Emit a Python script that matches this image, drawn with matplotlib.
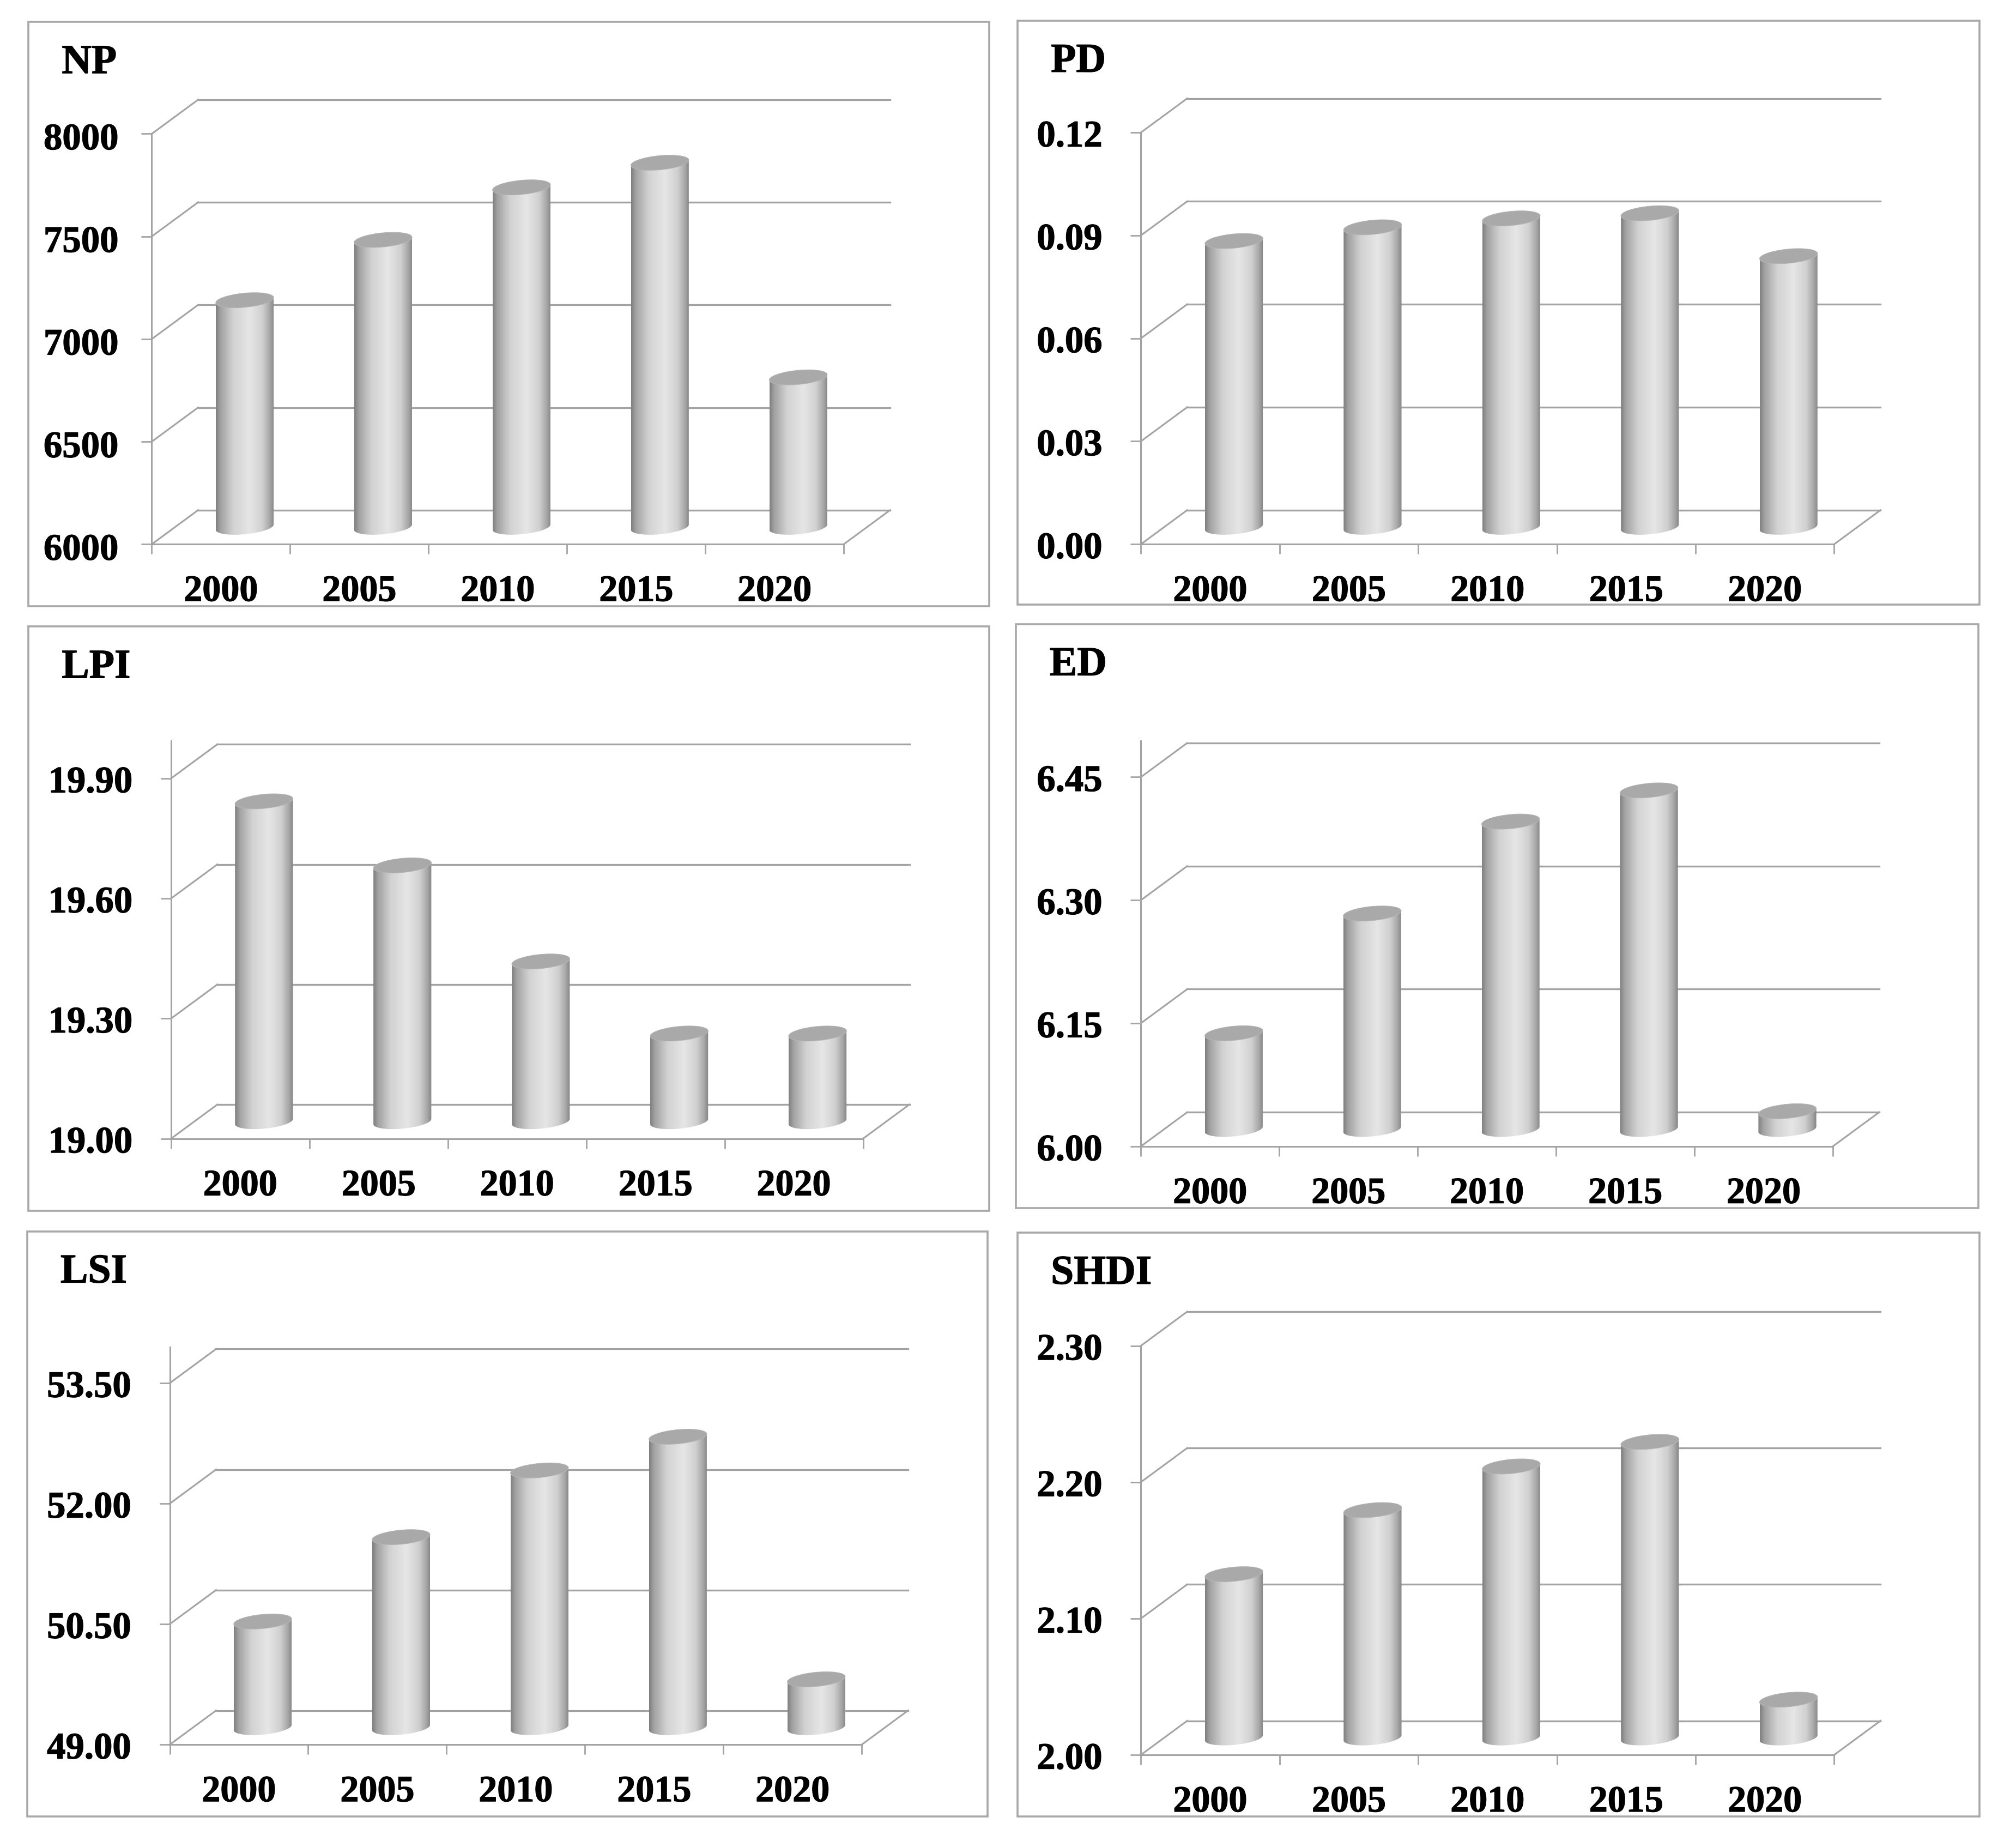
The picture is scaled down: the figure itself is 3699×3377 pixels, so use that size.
import numpy as np
import matplotlib
matplotlib.use('Agg')
import matplotlib.pyplot as plt
import matplotlib.patheffects as pe
from matplotlib.colors import LinearSegmentedColormap
from matplotlib.patches import Rectangle, Polygon
from matplotlib.path import Path
from matplotlib.transforms import Affine2D, IdentityTransform, offset_copy

plt.rcParams['font.family'] = ['Liberation Serif', 'DejaVu Serif']
plt.rcParams['font.weight'] = 'bold'

# values
years = ['2000', '2005', '2010', '2015', '2020']
np_values = [7106, 7400, 7656, 7776, 6730]
pd_values = [0.0834, 0.0874, 0.090, 0.0915, 0.079]
lpi_values = [19.80, 19.64, 19.40, 19.22, 19.22]
ed_values = [6.117, 6.263, 6.375, 6.413, 6.022]
lsi_values = [50.32, 51.37, 52.20, 52.62, 49.60]
shdi_values = [2.120, 2.167, 2.199, 2.217, 2.028]

np_ticks = [6000, 6500, 7000, 7500, 8000]
pd_ticks = [0.00, 0.03, 0.06, 0.09, 0.12]
lpi_ticks = [19.00, 19.30, 19.60, 19.90]
ed_ticks = [6.00, 6.15, 6.30, 6.45]
lsi_ticks = [49.00, 50.50, 52.00, 53.50]
shdi_ticks = [2.00, 2.10, 2.20, 2.30]

# layout, measured in the preview and scaled up
W, H = 3699, 3377
S = 2.36
DEPTH_X, DEPTH_Y = 36 * S, 26.5 * S
GREY = '#a3a3a3'

# name, values, ticks, label format, box (l, t, r, b), front plane (l, r, bottom, y of last tick)
panels = [
    ('NP', np_values, np_ticks, '%d', (22, 17, 769, 471), (118, 656, 423, 104)),
    ('PD', pd_values, pd_ticks, '%.2f', (791, 16, 1539, 470), (887, 1426, 423, 103)),
    ('LPI', lpi_values, lpi_ticks, '%.2f', (22, 487, 769, 941), (133, 671, 885, 605)),
    ('ED', ed_values, ed_ticks, '%.2f', (790, 485, 1538, 939), (887, 1425, 891, 604)),
    ('LSI', lsi_values, lsi_ticks, '%.2f', (21, 957, 768, 1412), (132, 670, 1356, 1075)),
    ('SHDI', shdi_values, shdi_ticks, '%.2f', (791, 958, 1539, 1412), (887, 1426, 1364, 1046)),
]
axis_tops = {'LPI': 576, 'ED': 576, 'LSI': 1047}

bar_cmap = LinearSegmentedColormap.from_list('cyl', [
    (0.0, '#7f7f7f'), (0.08, '#a2a2a2'), (0.3, '#d2d2d2'), (0.58, '#e6e6e6'),
    (0.8, '#d0d0d0'), (0.93, '#a6a6a6'), (1.0, '#858585')])
gradient = np.linspace(0, 1, 256).reshape(1, -1)
heavy = [pe.withStroke(linewidth=0.9, foreground='black')]

fig = plt.figure(figsize=(W / 100, H / 100), dpi=100)


def draw_cylinder(ax, xc, value, base, half_w, half_h, tilt):
    # centre of the bar sits half way into the depth of the floor
    cx, top = ax.transData.transform((xc, value))
    _, bottom = ax.transData.transform((xc, base))
    cx += DEPTH_X / 2 + 1
    top += DEPTH_Y / 2
    bottom += DEPTH_Y / 2

    t = np.linspace(0, np.pi, 60)
    top_x = cx + half_w * np.cos(t)
    top_y = top + half_h * np.sin(t) + tilt * half_w * np.cos(t)
    t2 = np.linspace(np.pi, 2 * np.pi, 60)
    bot_x = cx + half_w * np.cos(t2)
    bot_y = bottom + half_h * np.sin(t2) + tilt * half_w * np.cos(t2)
    outline = np.column_stack([np.r_[top_x, bot_x], np.r_[top_y, bot_y]])

    im = ax.imshow(gradient, cmap=bar_cmap, vmin=0, vmax=1, aspect='auto', interpolation='bilinear',
                   extent=(cx - half_w, cx + half_w, bottom - 40, top + 40),
                   transform=IdentityTransform(), zorder=3)
    im.set_clip_box(fig.bbox)
    im.set_clip_path(Path(np.vstack([outline, outline[0]]), closed=True), IdentityTransform())

    # top cap
    t3 = np.linspace(0, 2 * np.pi, 120)
    cap = np.column_stack([cx + half_w * np.cos(t3),
                           top + half_h * np.sin(t3) + tilt * half_w * np.cos(t3)])
    ax.add_patch(Polygon(cap, closed=True, facecolor='#a9a9a9', edgecolor='#b4b4b4', linewidth=0.8,
                         transform=IdentityTransform(), zorder=4, clip_on=False))


for name, values, ticks, fmt, box, front in panels:
    # panel frame
    l, t, r, b = [v * S for v in box]
    fig.add_artist(Rectangle((l / W, 1 - b / H), (r - l) / W, (b - t) / H, transform=fig.transFigure,
                             fill=False, edgecolor='#a8a8a8', linewidth=2.6))

    fl, fr, fb, ft = [v * S for v in front]
    top_y = axis_tops.get(name, front[3]) * S
    unit = (fb - ft) / (ticks[-1] - ticks[0])
    ylim_top = ticks[0] + (fb - top_y) / unit

    ax = fig.add_axes([fl / W, 1 - fb / H, (fr - fl) / W, (fb - top_y) / H])
    ax.patch.set_visible(False)
    ax.set_xlim(0, 5)
    ax.set_ylim(ticks[0], ylim_top)
    ax.set_autoscale_on(False)

    # back wall lines and the diagonals that join them to the front
    back = offset_copy(ax.transData, fig=fig, x=DEPTH_X, y=DEPTH_Y, units='dots')
    for tick in ticks:
        ax.plot([0, 5], [tick, tick], color=GREY, linewidth=2.4, transform=back, clip_on=False, zorder=1)
        xa, ya = ax.transData.transform((0, tick))
        ax.plot([xa, xa + DEPTH_X], [ya, ya + DEPTH_Y], color=GREY, linewidth=2.2,
                transform=IdentityTransform(), clip_on=False, zorder=1)
    xa, ya = ax.transData.transform((5, ticks[0]))
    ax.plot([xa, xa + DEPTH_X], [ya, ya + DEPTH_Y], color=GREY, linewidth=2.2,
            transform=IdentityTransform(), clip_on=False, zorder=1)

    for n, value in enumerate(values):
        draw_cylinder(ax, n + 0.5, value, ticks[0], 22.5 * S, 5.5 * S, 0.09)

    ax.spines['top'].set_visible(False)
    ax.spines['right'].set_visible(False)
    for side in ['left', 'bottom']:
        ax.spines[side].set_color(GREY)
        ax.spines[side].set_linewidth(2.2)
        ax.spines[side].set_zorder(2)

    ax.set_yticks(ticks)
    ax.set_yticklabels([fmt % v for v in ticks], fontsize=49.5, fontweight='bold', color='black', path_effects=heavy)
    # the decimal labels sit a little further from the axis
    ax.tick_params(axis='y', length=14, width=2.0, color=GREY, pad=30 if fmt == '%d' else 37)
    for label in ax.get_yticklabels():
        label.set_transform(label.get_transform() + Affine2D().translate(0, -4 if fmt == '%d' else -1))

    ax.set_xticks(range(6))
    ax.set_xticklabels([])
    ax.set_xticks(np.arange(5) + 0.5, minor=True)
    ax.set_xticklabels(years, minor=True, fontsize=49, fontweight='bold', color='black', path_effects=heavy)
    ax.tick_params(axis='x', which='major', length=13, width=2.0, color=GREY)
    ax.tick_params(axis='x', which='minor', length=0, pad=41)

    fig.text((box[0] + 26) * S / W, 1 - (box[1] + 32) * S / H, name, fontsize=54.5, fontweight='bold',
             color='black', va='center', ha='left', path_effects=heavy)

fig.savefig('out.png', dpi=100)
